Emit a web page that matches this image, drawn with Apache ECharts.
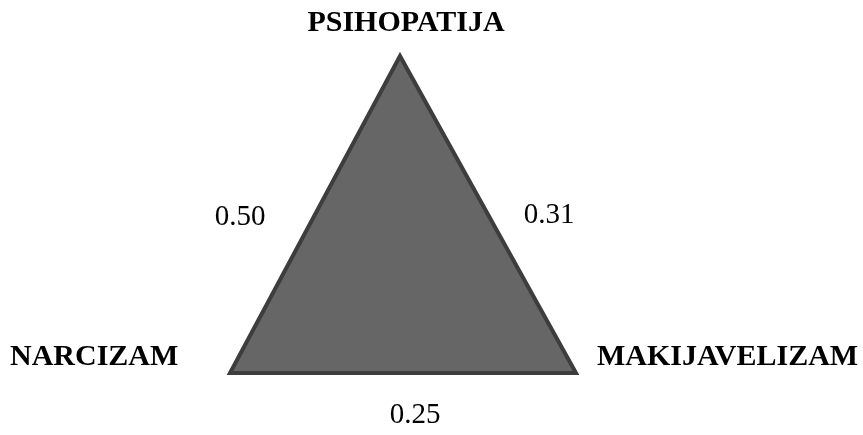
<!DOCTYPE html>
<html><head><meta charset="utf-8">
<script src="https://cdn.jsdelivr.net/npm/echarts@6/dist/echarts.min.js"></script>
<style>html,body{margin:0;padding:0;background:#fff}#c{width:863px;height:435px}</style>
</head><body><div id="c"></div>
<script>
// Vertices (traits): top, bottom-left, bottom-right
var traits = ['PSIHOPATIJA', 'NARCIZAM', 'MAKIJAVELIZAM'];
// Edge correlations: left edge (P–N), right edge (P–M), bottom edge (N–M)
var edgeLabels = ['left', 'right', 'bottom'];
var edgeValues = [0.50, 0.31, 0.25];

var chart = echarts.init(document.getElementById('c'), null, {renderer: 'canvas'});
var labelFont = 'bold 30px "Liberation Serif", "DejaVu Serif", serif';
var numFont = '29px "Liberation Serif", "DejaVu Serif", serif';

chart.setOption({
  animation: false,
  backgroundColor: '#ffffff',
  xAxis: {show: false, type: 'value', min: 0, max: 1},
  yAxis: {show: false, type: 'value', min: 0, max: 1},
  grid: {left: 0, right: 0, top: 0, bottom: 0},
  series: [{
    type: 'custom',
    data: [[0]],
    renderItem: function (params, api) {
      var apex = [400, 56], bl = [230, 373], br = [576, 373];
      var children = [{
        type: 'polygon',
        shape: {points: [apex, bl, br]},
        style: {fill: '#666666', stroke: '#3d3d3d', lineWidth: 4, lineJoin: 'miter'}
      }];
      var pos = [[406, 23, 'center'], [10, 357, 'left'], [597, 357, 'left']];
      traits.forEach(function (t, i) {
        children.push({type: 'text', x: pos[i][0], y: pos[i][1],
          style: {text: t, font: labelFont, fill: '#000', align: pos[i][2], verticalAlign: 'middle'}});
      });
      var epos = {left: [240, 217], right: [549, 215], bottom: [415, 415]};
      edgeLabels.forEach(function (e, i) {
        children.push({type: 'text', x: epos[e][0], y: epos[e][1],
          style: {text: edgeValues[i].toFixed(2), font: numFont, fill: '#000', align: 'center', verticalAlign: 'middle'}});
      });
      return {type: 'group', children: children};
    }
  }]
});
</script></body></html>
